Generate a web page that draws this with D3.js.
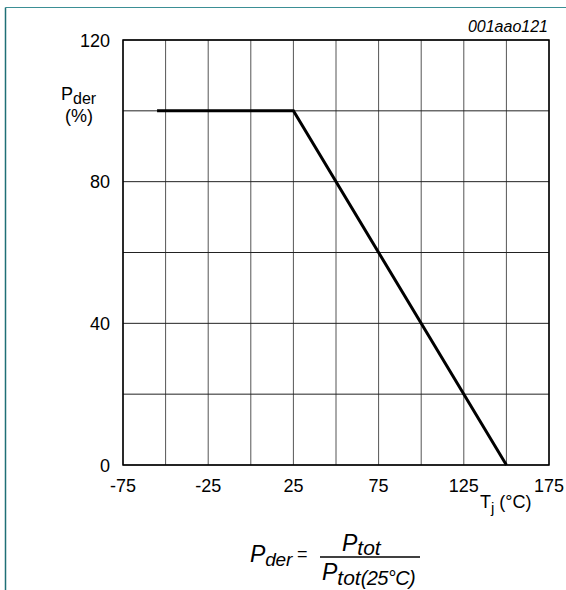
<!DOCTYPE html>
<html><head><meta charset="utf-8">
<script src="https://cdn.jsdelivr.net/npm/d3@7"></script>
<style>html,body{margin:0;padding:0;background:#fff;}svg{display:block;font-family:Arial,"Liberation Sans",sans-serif;}</style>
</head><body>
<svg id="c" width="566" height="590"></svg>
<script>
const tempPoints = [-55, 25, 150];
const pderValues = [100, 100, 0];
const xTickLabels = [-75, -25, 25, 75, 125, 175];
const yTickLabels = [0, 40, 80, 120];
const xGrid = [-75,-50,-25,0,25,50,75,100,125,150,175];
const yGrid = [0,20,40,60,80,100,120];

const svg = d3.select("#c");
const L = 123, R = 549, T = 40, B = 465;
const x = d3.scaleLinear().domain([-75,175]).range([L,R]);
const y = d3.scaleLinear().domain([0,120]).range([B,T]);

// teal page border
svg.append("line").attr("x1",5.5).attr("x2",566).attr("y1",7.5).attr("y2",7.5).attr("stroke","#3b8f95").attr("stroke-width",1.2);
svg.append("line").attr("x1",5.5).attr("x2",5.5).attr("y1",7.5).attr("y2",590).attr("stroke","#1f6f76").attr("stroke-width",1.5);

// grid
svg.append("g").selectAll("line").data(xGrid).join("line")
  .attr("x1",d=>x(d)).attr("x2",d=>x(d)).attr("y1",T).attr("y2",B)
  .attr("stroke","#555").attr("stroke-width",1);
svg.append("g").selectAll("line").data(yGrid).join("line")
  .attr("x1",L).attr("x2",R).attr("y1",d=>y(d)).attr("y2",d=>y(d))
  .attr("stroke","#222").attr("stroke-width",1);
// frame
svg.append("rect").attr("x",L).attr("y",T).attr("width",R-L).attr("height",B-T)
  .attr("fill","none").attr("stroke","#000").attr("stroke-width",1.5);

// data line
const line = d3.line().x((d,i)=>x(tempPoints[i])).y(d=>y(d));
svg.append("path").datum(pderValues).attr("d",line)
  .attr("fill","none").attr("stroke","#000").attr("stroke-width",3).attr("stroke-linejoin","miter");

// tick labels
svg.append("g").selectAll("text").data(xTickLabels).join("text")
  .attr("x",d=>x(d)).attr("y",B+27).attr("text-anchor","middle")
  .attr("font-size",18).text(d=>d);
svg.append("g").selectAll("text").data(yTickLabels).join("text")
  .attr("x",L-13).attr("y",d=>y(d)+6.5).attr("text-anchor","end")
  .attr("font-size",18).text(d=>d);

// y title
const yt = svg.append("text").attr("x",61).attr("y",100).attr("font-size",18);
yt.append("tspan").text("P");
yt.append("tspan").attr("dy",4).attr("font-size",16).text("der");
svg.append("text").attr("x",79).attr("y",122).attr("text-anchor","middle").attr("font-size",18).text("(%)");

// x title
const xt = svg.append("text").attr("x",480).attr("y",508).attr("font-size",18);
xt.append("tspan").text("T");
xt.append("tspan").attr("dy",5).attr("font-size",15).text("j");
xt.append("tspan").attr("dy",-5).text(" (°C)");

// figure id
svg.append("text").attr("x",548).attr("y",32).attr("text-anchor","end")
  .attr("font-size",16).attr("font-style","italic").text("001aao121");

// formula
const f1 = svg.append("text").attr("x",250).attr("y",562).attr("font-size",23).attr("font-style","italic");
f1.append("tspan").text("P");
f1.append("tspan").attr("dy",4).attr("font-size",19).attr("letter-spacing",-0.3).text("der");
svg.append("text").attr("x",297).attr("y",560).attr("font-size",18).text("=");
svg.append("line").attr("x1",320).attr("x2",420).attr("y1",557).attr("y2",557).attr("stroke","#000").attr("stroke-width",1.5);
const fn = svg.append("text").attr("x",342).attr("y",551).attr("font-size",23).attr("font-style","italic");
fn.append("tspan").text("P");
fn.append("tspan").attr("dy",4).attr("font-size",21).text("tot");
const fd = svg.append("text").attr("x",322).attr("y",580).attr("font-size",23).attr("font-style","italic");
fd.append("tspan").text("P");
fd.append("tspan").attr("dy",5).attr("font-size",21).text("tot");
fd.append("tspan").attr("font-size",20).attr("letter-spacing",-0.6).text("(25°C)");
</script>
</body></html>
